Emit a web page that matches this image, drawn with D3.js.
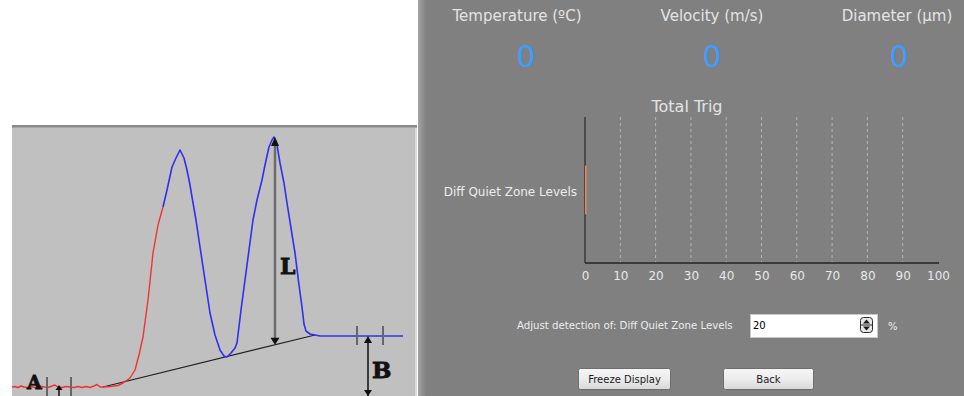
<!DOCTYPE html>
<html><head><meta charset="utf-8">
<script src="https://cdn.jsdelivr.net/npm/d3@7/dist/d3.min.js"></script>
<style>html,body{margin:0;padding:0;background:#fff;overflow:hidden}svg{display:block}</style>
</head><body><svg id="c" width="964" height="396"></svg>
<script>
// ---------- DATA ----------
// Signal waveform (time in arbitrary units 0..100, amplitude 0..100)
const redTime = [0,0.75,1.5,2.25,3,3.75,4.5,5.25,6,7,8,9,10,10.75,11.5,12.5,13.5,14.5,15.5,16.5,17.5,18.5,19.5,20.5,21.25,22,22.75,24.5,26.5,27.75,29.5,30.75,31.75,32.75,34,35.25,36.5,37.75];
const redAmp  = [0,0.2,-0.2,0.4,0,-0.2,0.2,0,-0.2,0.4,0,-0.2,0.4,0.8,0,-0.2,0.2,0,-0.2,0.2,-0.2,0.2,-0.2,0.4,1.0,0,0,0.2,0.6,1.6,3.6,6.8,12.8,20,34.8,53.6,64.8,72];
const blueTime = [37.75,38.75,40,41,42,43,43.75,44.5,45,46,47,48.25,49.5,50.75,52,53,53.75,54.75,55.75,56.25,57.25,58.25,59.25,60.25,61.25,62.5,63.25,64.25,65,65.5,66.25,67,68,68.75,69.75,70.75,71.75,72.5,73,73.5,74.5,75.75,77,97.75];
const blueAmp  = [72,78.8,88,91.6,94.8,91.6,86.8,80.8,76,66.8,56,42.8,29.6,20.8,14.8,12.4,12,13.6,15.6,17.6,30.8,42.8,54.8,66.8,74.8,82.8,88.8,96,98.8,100,96.8,89.6,81.6,73.6,63.6,53.6,40.8,32,25.2,22.4,21.2,20.8,20.4,20.4];
const baselineTime = [22.75, 75.75];
const baselineAmp  = [0, 20.8];
const peakTime = 65.75, peakAmp = 100;          // "L" measurement
const levelBTime = 89, levelBAmp = 20.4;        // "B" level
const levelBTicks = [86.25, 92.75];
const levelATime = 11.75, levelAAmp = 0.8;      // "A" level
const levelATicks = [8.75, 14.75];

// Readouts
const readoutLabels = ["Temperature (ºC)", "Velocity (m/s)", "Diameter (µm)"];
const readoutValues = [0, 0, 0];

// Bar chart
const chartTitle = "Total Trig";
const categories = ["Diff Quiet Zone Levels"];
const totalTrig = [0];
const xTicks = [0,10,20,30,40,50,60,70,80,90,100];
const gridTicks = [10,20,30,40,50,60,70,80,90];
const detectionLevel = 20;

// ---------- DRAW ----------
const svg = d3.select("#c");
const defs = svg.append("defs");
const FONT = "'DejaVu Sans', Verdana, sans-serif";

// ----- Left panel -----
svg.append("rect").attr("x",12).attr("y",127).attr("width",405).attr("height",269).attr("fill","#c0c0c0");
svg.append("rect").attr("x",12).attr("y",125).attr("width",405).attr("height",2).attr("fill","#8a8a8a");
svg.append("rect").attr("x",12).attr("y",127).attr("width",405).attr("height",1).attr("fill","#a6a6a6");
svg.append("rect").attr("x",415).attr("y",128).attr("width",2).attr("height",268).attr("fill","#dcdcdc");

const tx = d3.scaleLinear().domain([0,100]).range([12,412]);
const ay = d3.scaleLinear().domain([0,100]).range([387,137]);
const lineGen = d3.line().x(d=>tx(d[0])).y(d=>ay(d[1]));

const left = svg.append("g");
left.append("path").datum(d3.zip(baselineTime, baselineAmp)).attr("d", lineGen)
  .attr("fill","none").attr("stroke","#1e1e1e").attr("stroke-width",1.2);
left.append("path").datum(d3.zip(redTime, redAmp)).attr("d", lineGen)
  .attr("fill","none").attr("stroke","#f03232").attr("stroke-width",1.4).attr("stroke-linejoin","round");
left.append("path").datum(d3.zip(blueTime, blueAmp)).attr("d", lineGen)
  .attr("fill","none").attr("stroke","#2f2ff0").attr("stroke-width",1.6).attr("stroke-linejoin","round");

function baseAt(t){ return d3.scaleLinear().domain(baselineTime).range(baselineAmp)(t); }
function arrowHead(g, x, y, dir, w, h){
  g.append("path").attr("d", `M${x},${y} L${x-w},${y - dir*h} L${x+w},${y - dir*h} Z`).attr("fill","#111");
}
const LFONT = "'DejaVu Serif', serif";
// L arrow
{
  const x = tx(peakTime), y1 = ay(peakAmp), y2 = ay(baseAt(peakTime));
  left.append("line").attr("x1",x).attr("x2",x).attr("y1",y1+4).attr("y2",y2-4).attr("stroke","#6c6c6c").attr("stroke-width",2.5);
  arrowHead(left, x, y1, -1, 4, 9);
  arrowHead(left, x, y2, 1, 4.5, 7);
  left.append("text").attr("x", tx(67)).attr("y", ay(45.2)).text("L")
    .attr("font-family",LFONT).attr("font-weight","bold").attr("font-size",22).attr("fill","#111")
    .attr("stroke","#111").attr("stroke-width",0.8);
}
// B level
{
  const x = tx(levelBTime), y1 = ay(levelBAmp), y2 = ay(-3.6);
  left.append("line").attr("x1",x).attr("x2",x).attr("y1",y1+4).attr("y2",y2).attr("stroke","#111").attr("stroke-width",1.5);
  arrowHead(left, x, y1, -1, 4, 7);
  arrowHead(left, x, y2, 1, 4, 6);
  levelBTicks.forEach(t=>left.append("line").attr("x1",tx(t)).attr("x2",tx(t)).attr("y1",ay(24.4)).attr("y2",ay(16.8)).attr("stroke","#666").attr("stroke-width",2));
  left.append("text").attr("x", tx(90)).attr("y", ay(3.6)).text("B")
    .attr("font-family",LFONT).attr("font-weight","bold").attr("font-size",23).attr("fill","#111")
    .attr("stroke","#111").attr("stroke-width",0.8);
}
// A level
{
  const x = tx(levelATime), y1 = ay(levelAAmp), y2 = ay(-4);
  left.append("line").attr("x1",x).attr("x2",x).attr("y1",y1+3).attr("y2",y2).attr("stroke","#111").attr("stroke-width",1.5);
  arrowHead(left, x, y1, -1, 3.5, 5);
  levelATicks.forEach(t=>left.append("line").attr("x1",tx(t)).attr("x2",tx(t)).attr("y1",ay(4)).attr("y2",ay(-4)).attr("stroke","#666").attr("stroke-width",2));
  left.append("text").attr("x", tx(3.75)).attr("y", ay(-0.6)).text("A")
    .attr("font-family",LFONT).attr("font-weight","bold").attr("font-size",19).attr("fill","#111")
    .attr("stroke","#111").attr("stroke-width",0.8);
}

// ----- Right panel -----
const grad = defs.append("linearGradient").attr("id","edge").attr("x1",0).attr("x2",1).attr("y1",0).attr("y2",0);
grad.append("stop").attr("offset",0).attr("stop-color","#a4a4a4");
grad.append("stop").attr("offset",1).attr("stop-color","#808080");
svg.append("rect").attr("x",418).attr("y",0).attr("width",546).attr("height",396).attr("fill","#808080");
svg.append("rect").attr("x",418).attr("y",0).attr("width",8).attr("height",396).attr("fill","url(#edge)");

const right = svg.append("g");
const labelX = [517, 712, 897];
const valueX = [526, 712, 899];
readoutLabels.forEach((l,i)=>{
  right.append("text").attr("x",labelX[i]).attr("y",21).attr("text-anchor","middle").text(l)
    .attr("font-family",FONT).attr("font-size",15).attr("fill","#e4e4e4");
  right.append("text").attr("x",valueX[i]).attr("y",67).attr("text-anchor","middle").text(readoutValues[i])
    .attr("font-family",FONT).attr("font-size",30).attr("fill","#3d9cff");
});

right.append("text").attr("x",687).attr("y",112).attr("text-anchor","middle").text(chartTitle)
  .attr("font-family",FONT).attr("font-size",16).attr("fill","#e4e4e4");

const x = d3.scaleLinear().domain([0,100]).range([585,938]);
const y = d3.scaleBand().domain(categories).range([117,263]).padding(0.5);

right.selectAll("line.grid").data(gridTicks).join("line").attr("class","grid")
  .attr("x1",d=>x(d)).attr("x2",d=>x(d)).attr("y1",117).attr("y2",263)
  .attr("stroke","#b4b4b4").attr("stroke-width",1).attr("stroke-dasharray","3,3");

const xAxis = right.append("g").attr("transform","translate(0,263)")
  .call(d3.axisBottom(x).tickValues(xTicks).tickSize(0).tickPadding(10).tickFormat(d3.format("d")));
xAxis.select(".domain").attr("stroke","#3a3a3a").attr("stroke-width",2).attr("d",`M${x(0)},0H${x(100)+1}`);
xAxis.selectAll("text").attr("font-family",FONT).attr("font-size",12).attr("fill","#e8e8e8").attr("dy","0.55em");

const yAxis = right.append("g").attr("transform",`translate(${x(0)},0)`)
  .call(d3.axisLeft(y).tickSize(0).tickPadding(8));
yAxis.select(".domain").attr("stroke","#3a3a3a").attr("stroke-width",1.5).attr("d","M0,117V263");
yAxis.selectAll("text").attr("font-family",FONT).attr("font-size",12).attr("fill","#ececec").attr("dy","0.5em");

// bars (zero value drawn as a hairline at the axis)
right.selectAll("rect.bar").data(totalTrig).join("rect").attr("class","bar")
  .attr("x",x(0)).attr("y",(d,i)=>y(categories[i])).attr("width",d=>Math.max(x(d)-x(0),1.6)).attr("height",y.bandwidth())
  .attr("fill","#e08a5a");

// detection row
right.append("text").attr("x",517).attr("y",329).text("Adjust detection of: " + categories[0])
  .attr("font-family",FONT).attr("font-size",10.2).attr("fill","#ececec");
right.append("rect").attr("x",750.5).attr("y",314.5).attr("width",127).attr("height",23).attr("fill","#fff").attr("stroke","#c8c8c8");
right.append("text").attr("x",753).attr("y",329).text(detectionLevel)
  .attr("font-family",FONT).attr("font-size",10).attr("fill","#000");
right.append("rect").attr("x",860.5).attr("y",317.5).attr("width",12).attr("height",15).attr("rx",3).attr("fill","#e6e6e6").attr("stroke","#2a2a2a");
right.append("line").attr("x1",861).attr("x2",872).attr("y1",325).attr("y2",325).attr("stroke","#2a2a2a");
right.append("path").attr("d","M863,323.5 L870,323.5 L866.5,319.5 Z").attr("fill","#1a1a1a");
right.append("path").attr("d","M863,326.5 L870,326.5 L866.5,330.5 Z").attr("fill","#1a1a1a");
right.append("text").attr("x",888).attr("y",330).text("%")
  .attr("font-family",FONT).attr("font-size",10).attr("fill","#ececec");

const bg = defs.append("linearGradient").attr("id","btn").attr("x1",0).attr("x2",0).attr("y1",0).attr("y2",1);
bg.append("stop").attr("offset",0).attr("stop-color","#f6f6f6");
bg.append("stop").attr("offset",0.5).attr("stop-color","#ececec");
bg.append("stop").attr("offset",1).attr("stop-color","#d8d8d8");
[["Freeze Display",578,92],["Back",723,90]].forEach(([t,bx,bw])=>{
  right.append("rect").attr("x",bx+0.5).attr("y",368.5).attr("width",bw).attr("height",21).attr("rx",2)
    .attr("fill","url(#btn)").attr("stroke","#6e6e6e");
  right.append("text").attr("x",bx+bw/2+0.5).attr("y",383).attr("text-anchor","middle").text(t)
    .attr("font-family",FONT).attr("font-size",10).attr("fill","#1a1a1a");
});
</script>
</body></html>
